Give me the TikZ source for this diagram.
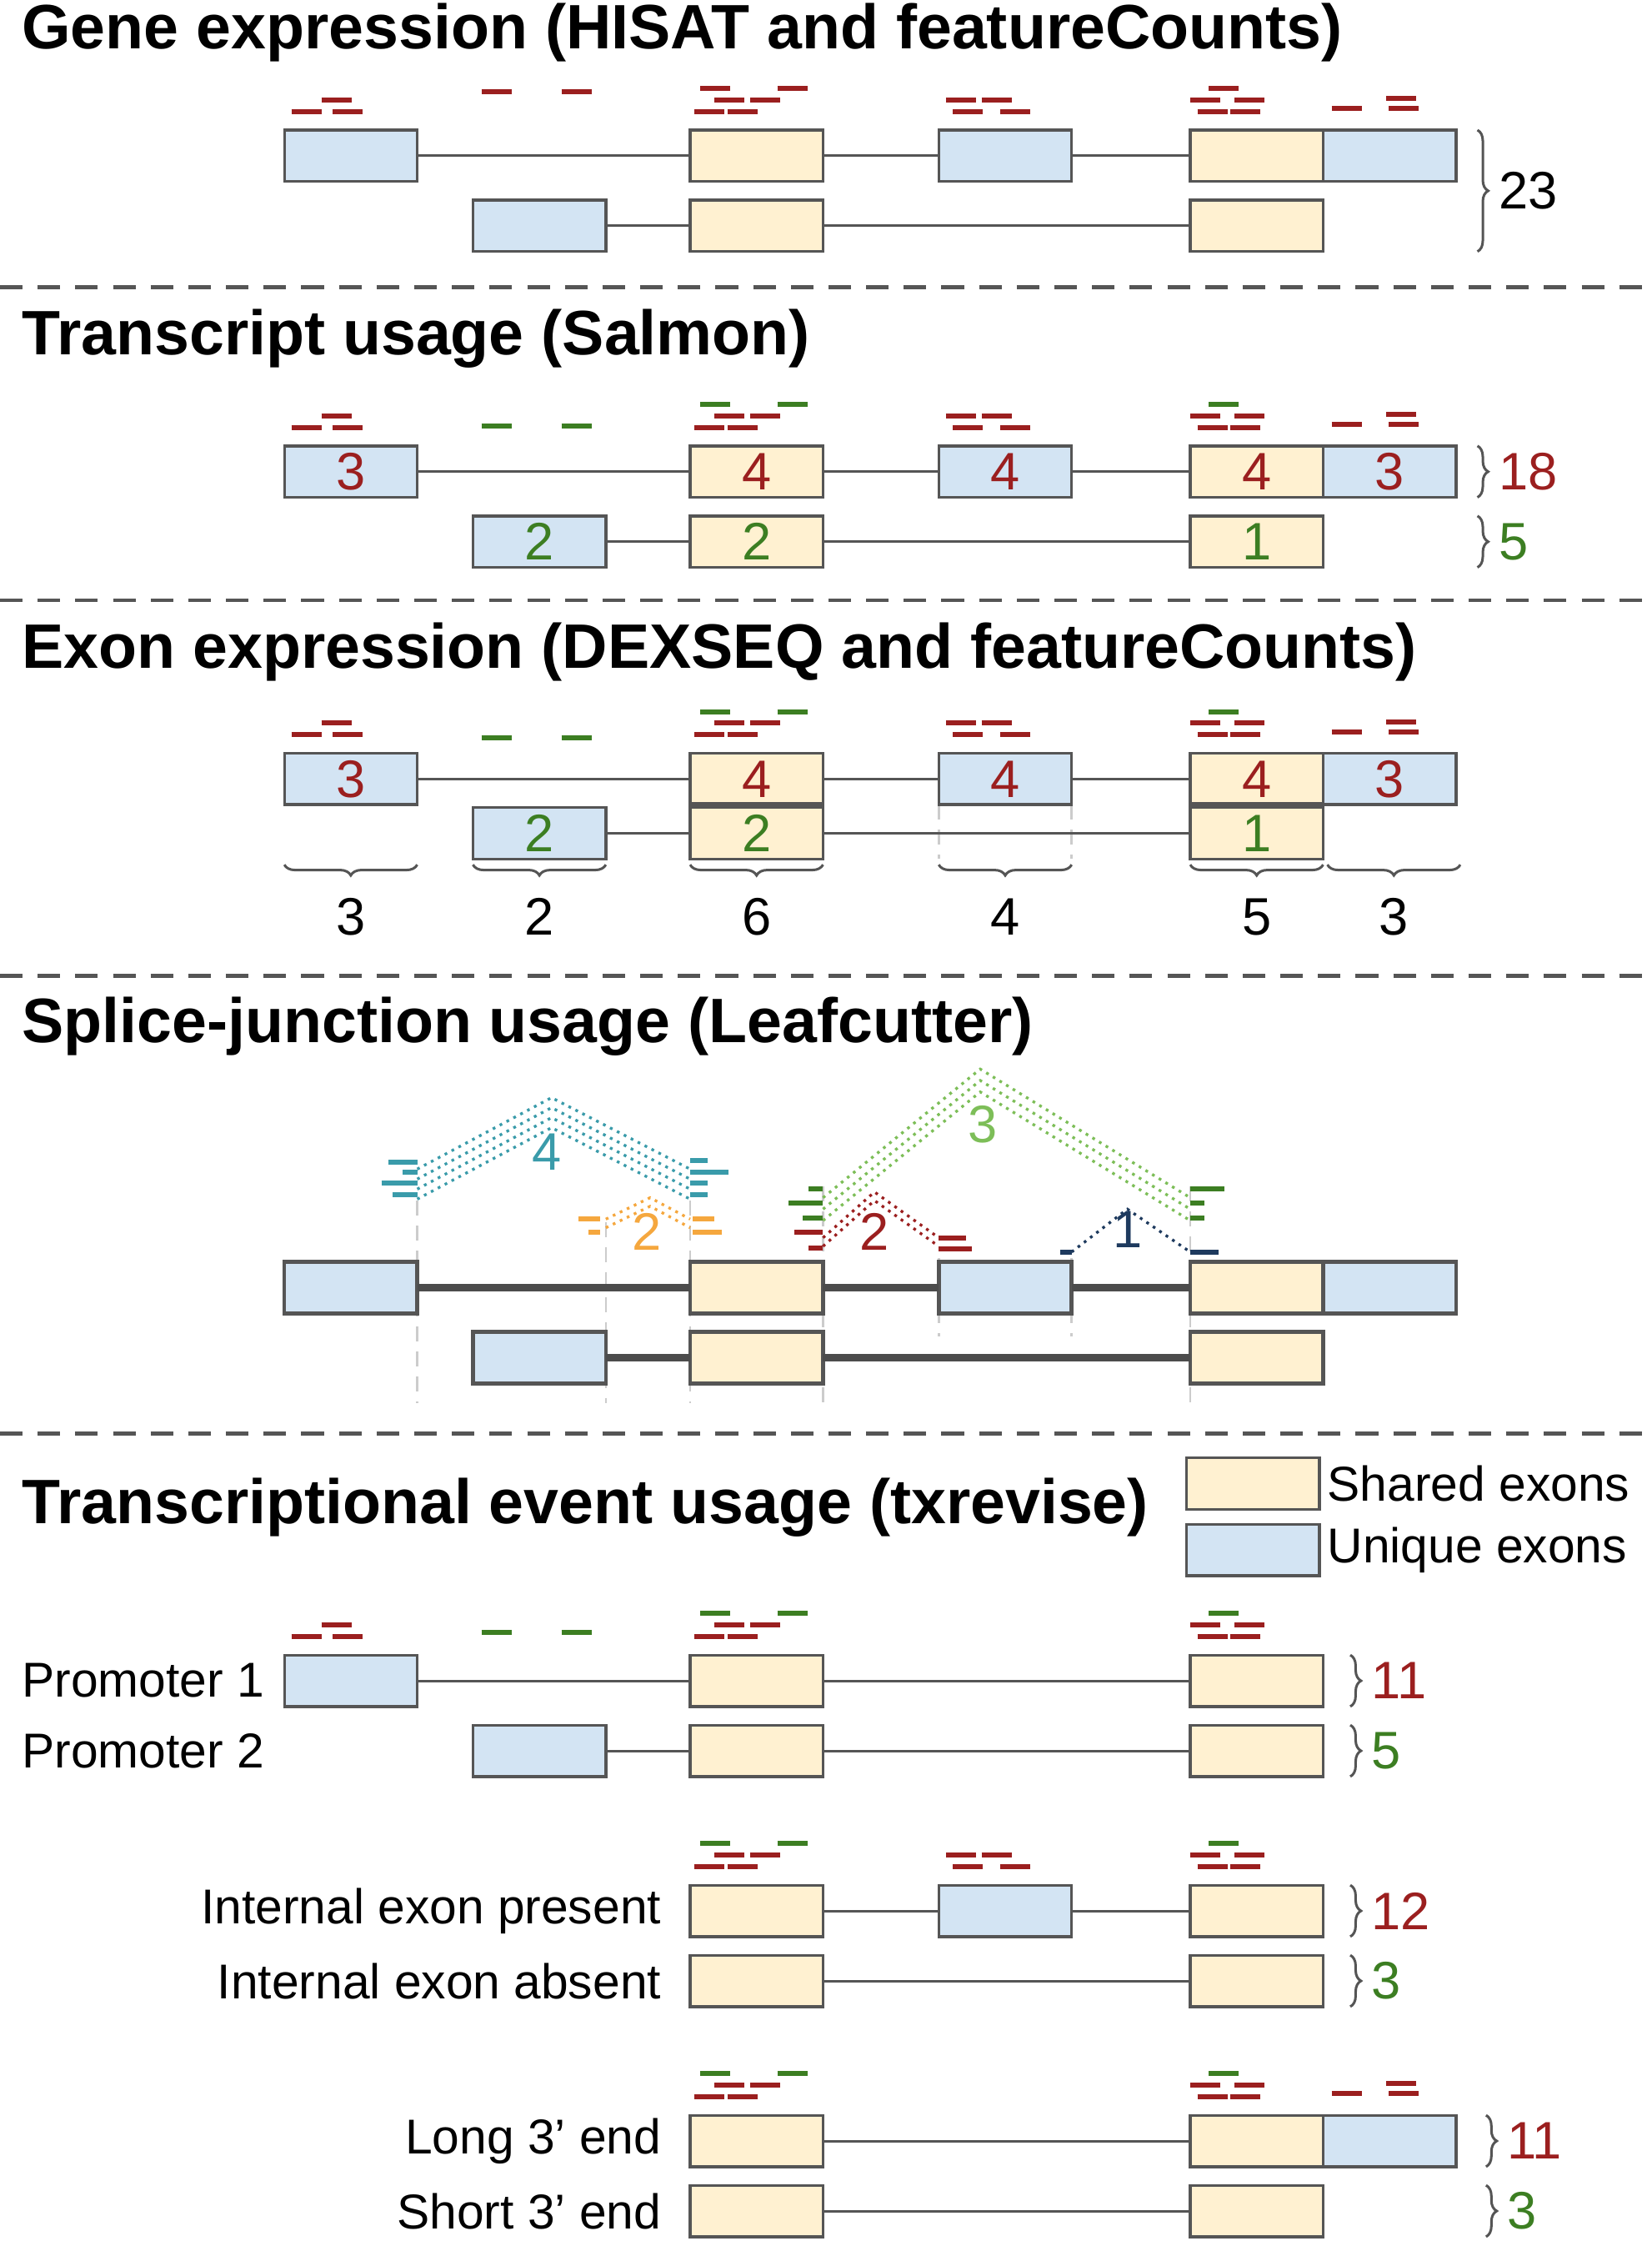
\documentclass[tikz,border=0pt]{standalone}
\usepackage{fontspec}
\setmainfont{Liberation Sans}
\usetikzlibrary{decorations.pathreplacing}

\definecolor{uniq}{HTML}{D3E4F3}
\definecolor{shared}{HTML}{FFF1D1}
\definecolor{edge}{HTML}{555555}
\definecolor{rdred}{HTML}{9B1F1F}
\definecolor{rdgreen}{HTML}{3C7E22}
\definecolor{teal}{HTML}{3A9BAA}
\definecolor{amber}{HTML}{F5A73E}
\definecolor{lgreen}{HTML}{7DBE58}
\definecolor{navy}{HTML}{1E3A5E}

\tikzset{
  exon/.style={draw=edge,line width=1.1pt,minimum width=1.86cm,minimum height=0.72cm,inner sep=0pt,outer sep=0pt,font=\fontsize{21}{21}\selectfont},
  uexon/.style={exon,fill=uniq},
  sexon/.style={exon,fill=shared},
  intron/.style={draw=edge,line width=1pt},
  thickintron/.style={draw=edge!90!black,line width=2.8pt},
  rd/.style={line width=2pt},
  sep/.style={draw=edge,dashed,line width=1.6pt,dash pattern=on 9pt off 6pt},
  title/.style={anchor=west,inner sep=0pt,font=\bfseries\fontsize{25}{25}\selectfont},
  lbl/.style={inner sep=0pt,font=\fontsize{19.5}{19.5}\selectfont},
  num/.style={inner sep=0pt,font=\fontsize{21}{21}\selectfont},
  rbrace/.style={draw=edge,line width=1pt,decorate,decoration={brace,amplitude=0.15cm}},
  guide/.style={draw=black!20,line width=0.9pt,dash pattern=on 6pt off 4pt},
  junc/.style={line width=1.1pt,dotted},
}

% read clusters, relative to left x and top y of an exon
\newcommand{\readsA}[2]{%
  \foreach \dx/\dy in {26/-21,5/-13,34/-13} \draw[rd,rdred] (#1+\dx,#2+\dy) -- ++(21,0);}
\newcommand{\readsGap}[3]{%
  \foreach \dx in {-146,-90} \draw[rd,#3] (#1+\dx,#2) -- ++(21,0);}
\newcommand{\readsC}[3]{%
  \foreach \dx in {7,61} \draw[rd,#3] (#1+\dx,#2-29) -- ++(21,0);
  \foreach \dx/\dy in {17/-21,42/-21,3/-13,26/-13} \draw[rd,rdred] (#1+\dx,#2+\dy) -- ++(21,0);}
\newcommand{\readsD}[2]{%
  \foreach \dx/\dy in {5/-21,30/-21,10/-13,43/-13} \draw[rd,rdred] (#1+\dx,#2+\dy) -- ++(21,0);}
\newcommand{\readsE}[3]{%
  \draw[rd,#3] (#1+13,#2-29) -- ++(21,0);
  \foreach \dx/\dy in {0/-21,31/-21,5/-13,28/-13} \draw[rd,rdred] (#1+\dx,#2+\dy) -- ++(21,0);}
\newcommand{\readsF}[2]{%
  \foreach \dx/\dy in {44/-22,6/-15,46/-15} \draw[rd,rdred] (#1+\dx,#2+\dy) -- ++(21,0);}

\begin{document}
\begin{tikzpicture}[x=0.02cm,y=-0.02cm]
  \useasboundingbox (0,0) rectangle (1156,1568);

  % separators
  \foreach \y in {201,420,683,1003}
    \draw[sep] (0,\y) -- (1156,\y);

  % ---------- gene expression
  \node[title] (t1) at (15,23) {Gene expression (HISAT and featureCounts)};
  \node[uexon] (g1A) at (245.5,109) {};
  \node[sexon] (g1C) at (529.5,109) {};
  \node[uexon] (g1D) at (703.5,109) {};
  \node[sexon] (g1E) at (879.5,109) {};
  \node[uexon] (g1F) at (972.5,109) {};
  \node[uexon] (g2B) at (377.5,158) {};
  \node[sexon] (g2C) at (529.5,158) {};
  \node[sexon] (g2E) at (879.5,158) {};
  \draw[intron] (g1A) -- (g1C) (g1C) -- (g1D) (g1D) -- (g1E);
  \draw[intron] (g2B) -- (g2C) (g2C) -- (g2E);
  \readsA{199}{91} \readsGap{483}{64}{rdred} \readsC{483}{91}{rdred}
  \readsD{657}{91} \readsE{833}{91}{rdred} \readsF{926}{91}
  \draw[rbrace] (1034,91) -- (1034,176) node[num,midway,right=8pt] (n1) {23};

  % ---------- transcript usage
  \node[title] (t2) at (15,237) {Transcript usage (Salmon)};
  \node[uexon,text=rdred] (s1A) at (245.5,330) {3};
  \node[sexon,text=rdred] (s1C) at (529.5,330) {4};
  \node[uexon,text=rdred] (s1D) at (703.5,330) {4};
  \node[sexon,text=rdred] (s1E) at (879.5,330) {4};
  \node[uexon,text=rdred] (s1F) at (972.5,330) {3};
  \node[uexon,text=rdgreen] (s2B) at (377.5,379) {2};
  \node[sexon,text=rdgreen] (s2C) at (529.5,379) {2};
  \node[sexon,text=rdgreen] (s2E) at (879.5,379) {1};
  \draw[intron] (s1A) -- (s1C) (s1C) -- (s1D) (s1D) -- (s1E);
  \draw[intron] (s2B) -- (s2C) (s2C) -- (s2E);
  \readsA{199}{312} \readsGap{483}{298}{rdgreen} \readsC{483}{312}{rdgreen}
  \readsD{657}{312} \readsE{833}{312}{rdgreen} \readsF{926}{312}
  \draw[rbrace] (1034,312) -- (1034,348) node[num,midway,right=8pt,text=rdred] (n2) {18};
  \draw[rbrace] (1034,361) -- (1034,397) node[num,midway,right=8pt,text=rdgreen] (n3) {5};

  % ---------- exon expression
  \node[title] (t3) at (15,456) {Exon expression (DEXSEQ and featureCounts)};
  \draw[guide] (657,563) -- (657,601) (750,563) -- (750,601);
  \node[uexon] (x2B) at (377.5,583) {};
  \node[sexon] (x2C) at (529.5,583) {};
  \node[sexon] (x2E) at (879.5,583) {};
  \draw[intron] (x2B) -- (x2C) (x2C) -- (x2E);
  \node[uexon,text=rdred] (x1A) at (245.5,545) {3};
  \node[sexon,text=rdred] (x1C) at (529.5,545) {4};
  \node[uexon,text=rdred] (x1D) at (703.5,545) {4};
  \node[sexon,text=rdred] (x1E) at (879.5,545) {4};
  \node[uexon,text=rdred] (x1F) at (972.5,545) {3};
  \node[text=rdgreen,num] at (x2B) {2};
  \node[text=rdgreen,num] at (x2C) {2};
  \node[text=rdgreen,num] at (x2E) {1};
  \draw[intron] (x1A) -- (x1C) (x1C) -- (x1D) (x1D) -- (x1E);
  \draw[draw=edge,line width=2pt] (x1C.south west) -- (x1C.south east) (x1E.south west) -- (x1E.south east);
  \readsA{199}{527} \readsGap{483}{516}{rdgreen} \readsC{483}{527}{rdgreen}
  \readsD{657}{527} \readsE{833}{527}{rdgreen} \readsF{926}{527}
  \foreach \xa/\xb/\n in {199/292/3,331/424/2,483/576/6,657/750/4,833/926/5,929/1022/3}
    \draw[rbrace] (\xb,605) -- (\xa,605) node[num,midway,below=13pt] {\n};

  % ---------- splice junction usage
  \node[title] (t4) at (15,718) {Splice-junction usage (Leafcutter)};
  \foreach \x/\ya in {292/840,424/855,483/840,576/830,833/830}
    \draw[guide] (\x,\ya) -- (\x,982);
  \draw[guide] (657,880) -- (657,935) (750,880) -- (750,935);
  \foreach \k in {0,...,3}
    \draw[junc,teal] (292,818+7*\k) -- (386,768+7*\k) -- (483,818+7*\k);
  \foreach \k in {0,1}
    \draw[junc,amber] (424,853+6*\k) -- (455,838+6*\k) -- (483,853+6*\k);
  \foreach \k in {0,...,2}
    \draw[junc,lgreen] (576,838+8*\k) -- (686,748+8*\k) -- (833,838+8*\k);
  \foreach \k in {0,1}
    \draw[junc,rdred] (576,866+6*\k) -- (612,834+6*\k) -- (657,866+6*\k);
  \draw[junc,navy] (750,876) -- (789,846) -- (833,876);
  \foreach \xa/\xb/\y in {272/292/813,282/292/820,267/292/828,275/292/836,
                          483/495/812,483/510/820,483/495/828,483/495/836}
    \draw[rd,teal] (\xa,\y) -- (\xb,\y);
  \foreach \xa/\xb/\y in {405/420/853,412/420/862,485/500/853,485/505/862}
    \draw[rd,amber] (\xa,\y) -- (\xb,\y);
  \foreach \xa/\xb/\y in {566/576/832,552/576/842,562/576/852,833/857/832,833/843/842,833/843/852}
    \draw[rd,rdgreen] (\xa,\y) -- (\xb,\y);
  \foreach \xa/\xb/\y in {556/576/862,566/576/873,657/676/866,657/680/874}
    \draw[rd,rdred] (\xa,\y) -- (\xb,\y);
  \foreach \xa/\xb/\y in {742/750/876,833/853/876}
    \draw[rd,navy] (\xa,\y) -- (\xb,\y);
  \node[num,text=teal] (j1) at (383,806) {4};
  \node[num,text=amber] (j2) at (453,862) {2};
  \node[num,text=lgreen] (j3) at (688,787) {3};
  \node[num,text=rdred] (j4) at (612,862) {2};
  \node[num,text=navy] (j5) at (789,860) {1};
  \node[uexon,line width=1.5pt] (l1A) at (245.5,901) {};
  \node[sexon,line width=1.5pt] (l1C) at (529.5,901) {};
  \node[uexon,line width=1.5pt] (l1D) at (703.5,901) {};
  \node[sexon,line width=1.5pt] (l1E) at (879.5,901) {};
  \node[uexon,line width=1.5pt] (l1F) at (972.5,901) {};
  \node[uexon,line width=1.5pt] (l2B) at (377.5,950) {};
  \node[sexon,line width=1.5pt] (l2C) at (529.5,950) {};
  \node[sexon,line width=1.5pt] (l2E) at (879.5,950) {};
  \draw[thickintron] (l1A) -- (l1C) (l1C) -- (l1D) (l1D) -- (l1E);
  \draw[thickintron] (l2B) -- (l2C) (l2C) -- (l2E);

  % ---------- transcriptional event usage
  \node[title] (t5) at (15,1055) {Transcriptional event usage (txrevise)};
  \node[sexon] (key1) at (877,1038) {};
  \node[uexon] (key2) at (877,1084.5) {};
  \node[lbl,anchor=west] at ([xshift=3pt]key1.east) {Shared exons};
  \node[lbl,anchor=west] at ([xshift=3pt]key2.east) {Unique exons};

  \node[uexon] (p1A) at (245.5,1176) {};
  \node[sexon] (p1C) at (529.5,1176) {};
  \node[sexon] (p1E) at (879.5,1176) {};
  \node[uexon] (p2B) at (377.5,1225) {};
  \node[sexon] (p2C) at (529.5,1225) {};
  \node[sexon] (p2E) at (879.5,1225) {};
  \draw[intron] (p1A) -- (p1C) (p1C) -- (p1E) (p2B) -- (p2C) (p2C) -- (p2E);
  \node[lbl,anchor=west] at (15,1176) {Promoter 1};
  \node[lbl,anchor=west] at (15,1225) {Promoter 2};
  \readsA{199}{1158} \readsGap{483}{1142}{rdgreen} \readsC{483}{1158}{rdgreen}
  \readsE{833}{1158}{rdgreen}

  \node[sexon] (i1C) at (529.5,1337) {};
  \node[uexon] (i1D) at (703.5,1337) {};
  \node[sexon] (i1E) at (879.5,1337) {};
  \node[sexon] (i2C) at (529.5,1386) {};
  \node[sexon] (i2E) at (879.5,1386) {};
  \draw[intron] (i1C) -- (i1D) (i1D) -- (i1E) (i2C) -- (i2E);
  \node[lbl,anchor=east] at (463,1337) {Internal exon present};
  \node[lbl,anchor=east] at (463,1386) {Internal exon absent};
  \readsC{483}{1319}{rdgreen} \readsD{657}{1319} \readsE{833}{1319}{rdgreen}

  \node[sexon] (e1C) at (529.5,1498) {};
  \node[sexon] (e1E) at (879.5,1498) {};
  \node[uexon] (e1F) at (972.5,1498) {};
  \node[sexon] (e2C) at (529.5,1547) {};
  \node[sexon] (e2E) at (879.5,1547) {};
  \draw[intron] (e1C) -- (e1E) (e2C) -- (e2E);
  \node[lbl,anchor=east] at (463,1498) {Long 3’ end};
  \node[lbl,anchor=east] at (463,1547) {Short 3’ end};
  \readsC{483}{1480}{rdgreen} \readsE{833}{1480}{rdgreen} \readsF{926}{1480}

  \foreach \x/\y/\n/\c in {945/1158/11/rdred,945/1207/5/rdgreen,945/1319/12/rdred,
                           945/1368/3/rdgreen,1040/1480/11/rdred,1040/1529/3/rdgreen}
    \draw[rbrace] (\x,\y) -- (\x,\y+36) node[num,midway,right=8pt,text=\c] {\n};
\end{tikzpicture}
\end{document}
